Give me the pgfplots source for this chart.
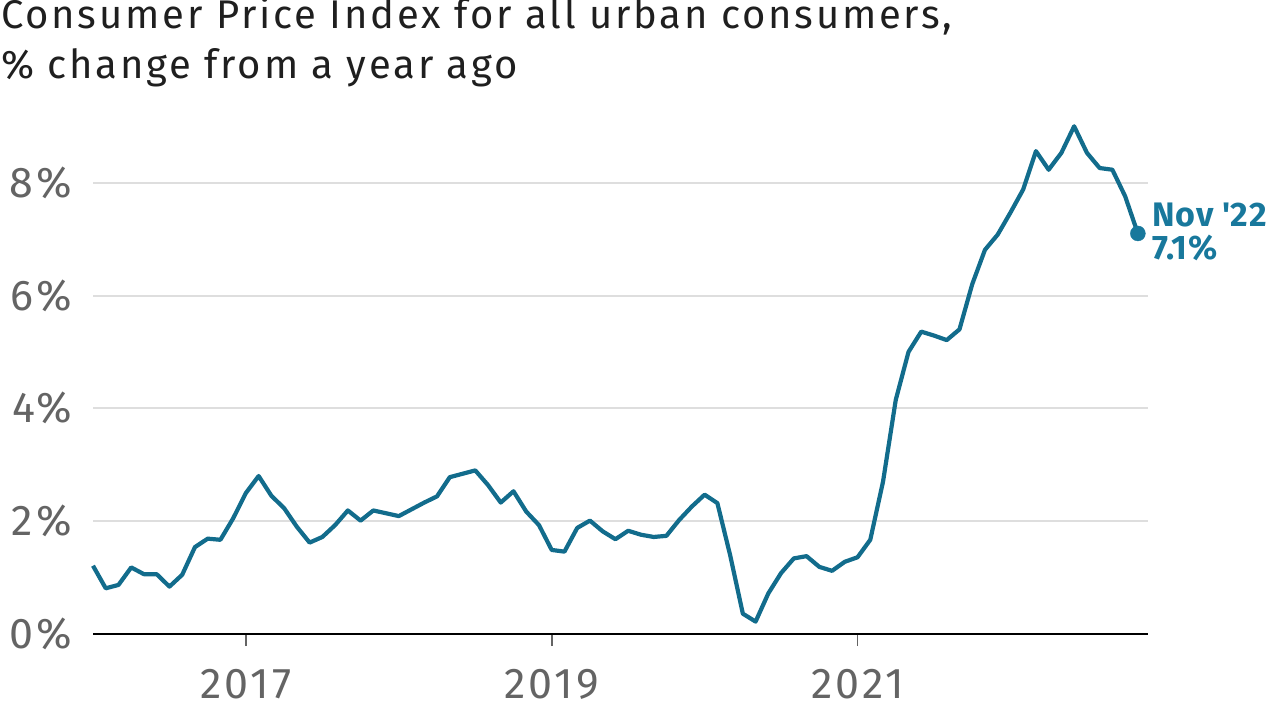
\documentclass[border=0pt]{standalone}
\usepackage{fontspec}
\setmainfont{Fira Sans}
\usepackage{pgfplots}
\usepackage{pgfplotstable}
\pgfplotsset{compat=1.18}
\definecolor{cpiline}{RGB}{18,108,140}
\definecolor{cpilabel}{RGB}{24,120,156}
\definecolor{tickgrey}{RGB}{100,100,100}
\definecolor{gridgrey}{RGB}{222,222,222}
\pgfplotstableread{
m v
0 1.21
1 0.81
2 0.87
3 1.18
4 1.06
5 1.06
6 0.84
7 1.05
8 1.54
9 1.69
10 1.67
11 2.05
12 2.50
13 2.80
14 2.45
15 2.23
16 1.90
17 1.62
18 1.72
19 1.93
20 2.19
21 2.01
22 2.19
23 2.14
24 2.09
25 2.21
26 2.33
27 2.44
28 2.78
29 2.84
30 2.90
31 2.64
32 2.33
33 2.53
34 2.17
35 1.93
36 1.49
37 1.46
38 1.88
39 2.01
40 1.82
41 1.68
42 1.83
43 1.76
44 1.72
45 1.74
46 2.02
47 2.26
48 2.47
49 2.32
50 1.40
51 0.36
52 0.22
53 0.72
54 1.08
55 1.34
56 1.38
57 1.19
58 1.12
59 1.28
60 1.36
61 1.67
62 2.70
63 4.15
64 5.00
65 5.36
66 5.29
67 5.21
68 5.40
69 6.20
70 6.81
71 7.08
72 7.47
73 7.88
74 8.56
75 8.23
76 8.53
77 9.00
78 8.53
79 8.26
80 8.23
81 7.76
82 7.10
}\cpidata
\begin{document}
\begin{tikzpicture}
\path[use as bounding box] (0,0) rectangle (1279bp,720bp);
\node[anchor=base west, inner sep=0pt, text=black!88] at (1bp,691bp)
  {\fontsize{40bp}{44bp}\selectfont\addfontfeatures{LetterSpace=7}Consumer Price Index for all urban consumers,};
\node[anchor=base west, inner sep=0pt, text=black!88] at (1bp,641bp)
  {\fontsize{40bp}{44bp}\selectfont\addfontfeatures{LetterSpace=7}\% change from a year ago};
\begin{axis}[
  at={(93bp,86bp)}, anchor=south west,
  scale only axis, width=1055bp, height=519bp,
  xmin=0, xmax=82.8, ymin=0, ymax=9.2,
  axis x line=bottom, axis y line=left,
  x axis line style={-, draw=black, line width=2.4bp},
  y axis line style={draw=none},
  xtick={12,36,60}, xticklabels={2017,2019,2021},
  ytick={0,2,4,6,8}, yticklabels={0\%,2\%,4\%,6\%,8\%},
  xtick align=outside, major tick length=12bp,
  xtick style={draw=tickgrey, line width=1.8bp},
  ytick style={draw=none},
  ymajorgrids, grid style={draw=gridgrey, line width=2bp},
  ticklabel style={font=\fontsize{43bp}{46bp}\selectfont\addfontfeatures{LetterSpace=7}, text=tickgrey, inner sep=0pt},
  yticklabel style={anchor=east, xshift=-15bp},
  xticklabel style={anchor=base, yshift=-52bp},
  clip=false,
]
\addplot[cpiline, line width=4.2bp, line join=round] table[x=m, y=v] {\cpidata};
\addplot[only marks, mark=*, mark size=7.5bp, cpilabel, mark options={draw=cpilabel, fill=cpilabel}] coordinates {(82,7.1)};
\node[anchor=base west, inner sep=0pt, text=cpilabel,
  font=\fontsize{34bp}{36bp}\selectfont\bfseries\addfontfeatures{LetterSpace=3}, xshift=14bp, yshift=6.6bp] at (axis cs:82,7.1)
  {Nov \textquotesingle 22};
\node[anchor=base west, inner sep=0pt, text=cpilabel,
  font=\fontsize{34bp}{36bp}\selectfont\bfseries\addfontfeatures{LetterSpace=3}, xshift=14bp, yshift=-26.4bp] at (axis cs:82,7.1)
  {7.1\%};
\end{axis}
\end{tikzpicture}
\end{document}
